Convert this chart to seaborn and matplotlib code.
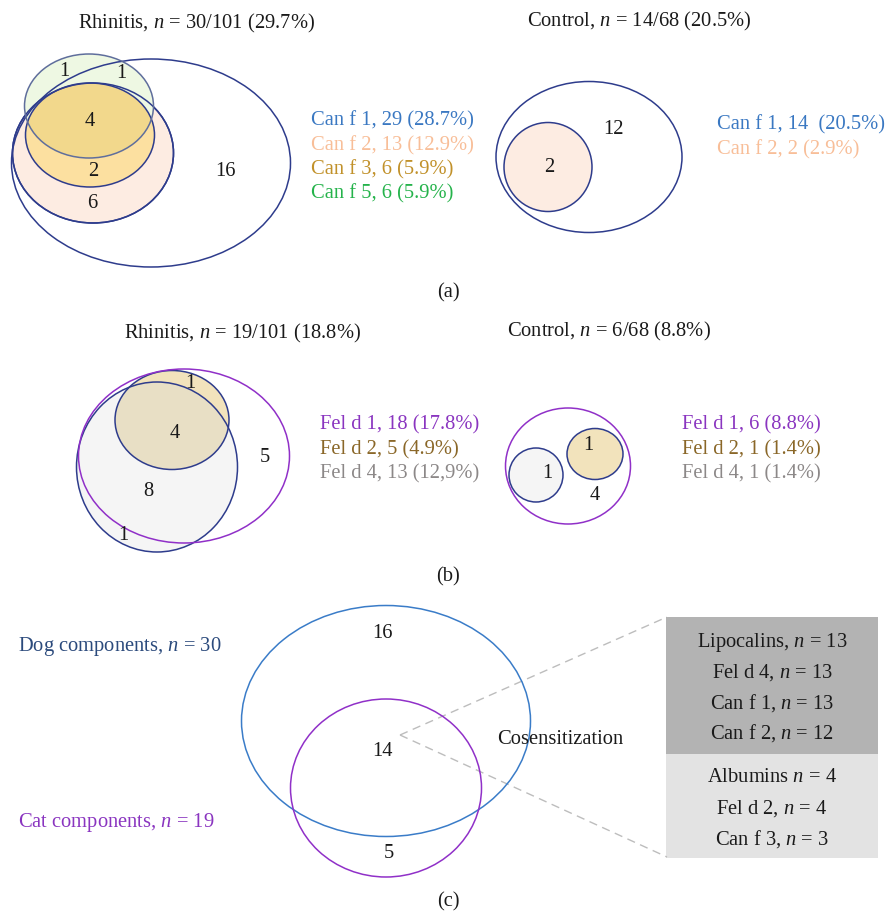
import matplotlib
matplotlib.use("Agg")
import matplotlib.pyplot as plt
from matplotlib.patches import Ellipse, Rectangle
import seaborn as sns

# ---------------- data ----------------
panel_titles = ["Rhinitis, $n$ = 30/101 (29.7%)", "Control, $n$ = 14/68 (20.5%)",
                "Rhinitis, $n$ = 19/101 (18.8%)", "Control, $n$ = 6/68 (8.8%)"]
# (a) dog components
rhin_dog_counts = [1, 1, 4, 2, 6, 16]
rhin_dog_labels = ["Can f 1, 29 (28.7%)", "Can f 2, 13 (12.9%)", "Can f 3, 6 (5.9%)", "Can f 5, 6 (5.9%)"]
ctrl_dog_counts = [12, 2]
ctrl_dog_labels = ["Can f 1, 14  (20.5%)", "Can f 2, 2 (2.9%)"]
dog_label_colors = ["#3A78C2", "#F8BE98", "#C1912A", "#25B34B"]
# (b) cat components
rhin_cat_counts = [1, 4, 8, 5, 1]
rhin_cat_labels = ["Fel d 1, 18 (17.8%)", "Fel d 2, 5 (4.9%)", "Fel d 4, 13 (12,9%)"]
ctrl_cat_counts = [1, 1, 4]
ctrl_cat_labels = ["Fel d 1, 6 (8.8%)", "Fel d 2, 1 (1.4%)", "Fel d 4, 1 (1.4%)"]
cat_label_colors = ["#8A35C0", "#8A6728", "#8C8888"]
# (c) cosensitization
cosens_counts = [16, 14, 5]
group_labels = ["Dog components, $n$ = 30", "Cat components, $n$ = 19"]
group_colors = ["#2B4A7C", "#8A35C0"]
cosens_label = "Cosensitization"
lipocalin_lines = ["Lipocalins, $n$ = 13", "Fel d 4, $n$ = 13", "Can f 1, $n$ = 13", "Can f 2, $n$ = 12"]
albumin_lines = ["Albumins $n$ = 4", "Fel d 2, $n$ = 4", "Can f 3, $n$ = 3"]
panel_letters = ["(a)", "(b)", "(c)"]

# ---------------- style ----------------
sns.set_theme(style="white")
plt.rcParams["font.family"] = ["Liberation Serif", "DejaVu Serif"]
plt.rcParams["mathtext.fontset"] = "custom"
plt.rcParams["mathtext.rm"] = "Liberation Serif"
plt.rcParams["mathtext.it"] = "Liberation Serif:italic"

W, H = 885, 913
fig = plt.figure(figsize=(W / 100, H / 100), dpi=100)
ax = fig.add_axes([0, 0, 1, 1])
ax.set_xlim(0, W)
ax.set_ylim(H, 0)
ax.axis("off")

NAVY = "#2E3C8C"
PURPLE = "#9030C8"
BLUE = "#3A7CC8"
FS = 14.8


def ell(cx, cy, w, h, fc="none", ec=NAVY, lw=1.1, z=1, angle=0):
    e = Ellipse((cx, cy), w, h, angle=angle, facecolor=fc, edgecolor=ec, lw=lw, zorder=z)
    ax.add_patch(e)
    return e


def txt(x, y, s, color="#1a1a1a", ha="center", size=FS, z=10):
    ax.text(x, y, s, color=color, ha=ha, va="center", fontsize=size, zorder=z)


# ======== (a) rhinitis dog ========
txt(196, 23, panel_titles[0])
ell(151, 163, 279, 208, z=6)
ell(93, 153, 161, 140, fc="#FDECE2", z=1)
ell(89, 106, 129, 104, fc="#EEF8E3", ec="none", z=2)
gold = ell(90, 135, 129, 104, fc="#FCE0A0", ec="none", z=3)
ov = Ellipse((89, 106), 129, 104, facecolor="#F2D88C", edgecolor="none", zorder=4)
ax.add_patch(ov)
ov.set_clip_path(gold)
ell(93, 153, 161, 140, ec=NAVY, z=6)
ell(90, 135, 129, 104, ec=NAVY, z=6)
ell(89, 106, 129, 104, ec="#5F6E9C", z=6)
pos_a = [(64, 71), (121, 74), (90, 121), (93, 171), (92, 203), (225, 172)]
for (x, y), c in zip(pos_a, rhin_dog_counts):
    txt(x, y, str(c))
for i, (s, col) in enumerate(zip(rhin_dog_labels, dog_label_colors)):
    txt(311, 121 + i * 24.3, s, color=col, ha="left")

# ======== (a) control dog ========
txt(639, 21, panel_titles[1])
ell(589, 157, 186, 151, z=6)
ell(548, 167, 88, 89, fc="#FDECE2", z=2)
pos_ac = [(613, 129), (549, 167)]
for (x, y), c in zip(pos_ac, ctrl_dog_counts):
    txt(x, y, str(c))
for i, (s, col) in enumerate(zip(ctrl_dog_labels, dog_label_colors[:2])):
    txt(717, 125 + i * 25, s, color=col, ha="left")

txt(448, 293, panel_letters[0])

# ======== (b) rhinitis cat ========
txt(242, 333, panel_titles[2])
ell(157, 467, 161, 170, fc="#F5F5F5", ec="none", z=1)
gold_b = ell(172, 420, 114, 99, fc="#F2E3BC", ec="none", z=2)
ov2 = Ellipse((157, 467), 161, 170, facecolor="#E8DFC5", edgecolor="none", zorder=3)
ax.add_patch(ov2)
ov2.set_clip_path(gold_b)
ell(157, 467, 161, 170, ec=NAVY, z=6)
ell(172, 420, 114, 99, ec=NAVY, z=6)
ell(184, 456, 211, 174, ec=PURPLE, z=7)
pos_b = [(190, 383), (175, 433), (148, 492), (265, 458), (123, 535)]
for (x, y), c in zip(pos_b, rhin_cat_counts):
    txt(x, y, str(c))
for i, (s, col) in enumerate(zip(rhin_cat_labels, cat_label_colors)):
    txt(320, 425 + i * 24.5, s, color=col, ha="left")

# ======== (b) control cat ========
txt(609, 331, panel_titles[3])
ell(568, 466, 125, 116, ec=PURPLE, z=7)
ell(536, 475, 54, 54, fc="#F5F5F5", ec=NAVY, z=3)
ell(595, 454, 56, 51, fc="#F2E3BC", ec=NAVY, z=3)
pos_bc = [(588, 446), (547, 474), (595, 495)]
for (x, y), c in zip(pos_bc, ctrl_cat_counts):
    txt(x, y, str(c))
for i, (s, col) in enumerate(zip(ctrl_cat_labels, cat_label_colors)):
    txt(682, 425 + i * 24.5, s, color=col, ha="left")

txt(448, 577, panel_letters[1])

# ======== (c) cosensitization ========
ell(386, 721, 289, 231, ec=BLUE, z=5)
ell(386, 788, 191, 178, ec=PURPLE, z=5)
pos_c = [(382, 633), (382, 752), (389, 853)]
for (x, y), c in zip(pos_c, cosens_counts):
    txt(x, y, str(c))
txt(18, 647, group_labels[0], color=group_colors[0], ha="left")
txt(18, 822, group_labels[1], color=group_colors[1], ha="left")
txt(560, 739, cosens_label)
ax.plot([400, 667], [735, 617], color="#BDBDBD", lw=1.0, ls=(0, (6, 4)), zorder=4)
ax.plot([400, 667], [735, 857], color="#BDBDBD", lw=1.0, ls=(0, (6, 4)), zorder=4)
ax.add_patch(Rectangle((666, 617), 212, 137, facecolor="#B3B3B3", edgecolor="none", zorder=2))
ax.add_patch(Rectangle((666, 754), 212, 104, facecolor="#E3E3E3", edgecolor="none", zorder=2))
for i, s in enumerate(lipocalin_lines):
    txt(772, 642 + i * 30.5, s)
for i, s in enumerate(albumin_lines):
    txt(772, 778 + i * 30.5, s)

txt(448, 902, panel_letters[2])

fig.savefig("out.png", dpi=100)
